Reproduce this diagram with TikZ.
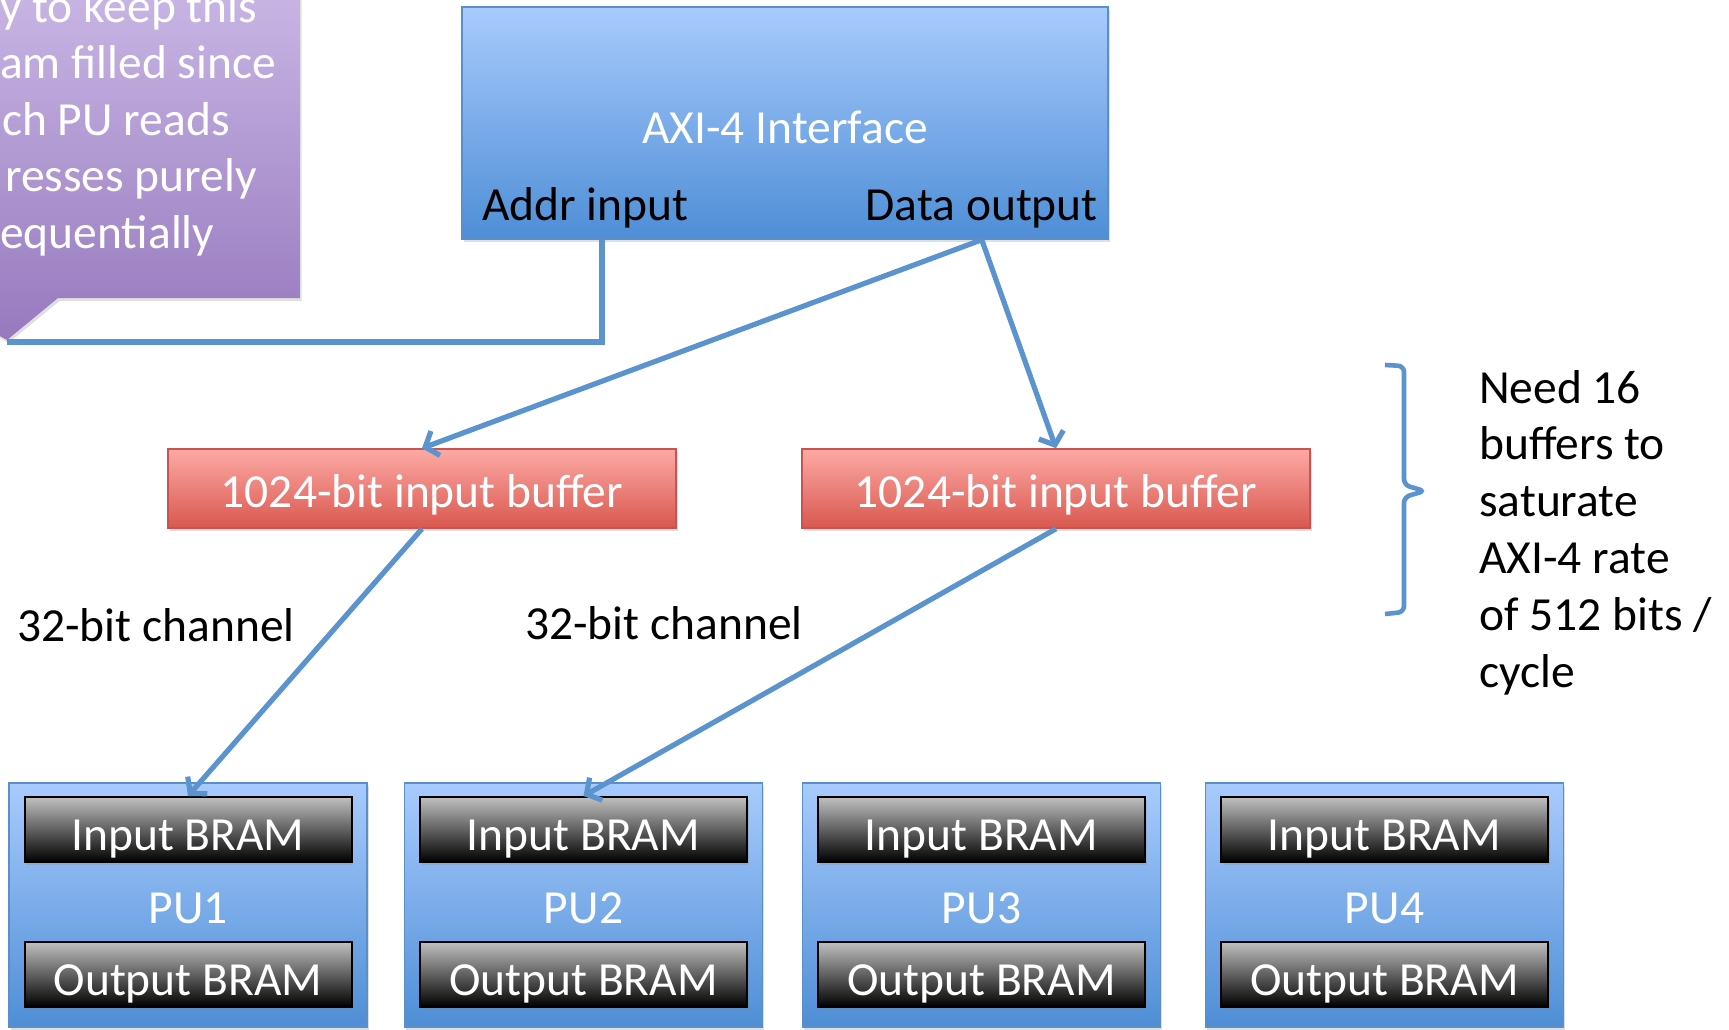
\documentclass[tikz,border=0pt]{standalone}
\usepackage{fontspec}
\setmainfont{Carlito}
\usetikzlibrary{arrows.meta,shadows,calc}
\definecolor{wireblue}{HTML}{5B93CE}
\definecolor{axitop}{HTML}{A8CBFD}
\definecolor{axibot}{HTML}{4E8ED6}
\definecolor{axiline}{HTML}{5A8FCB}
\definecolor{buftop}{HTML}{FDA9A5}
\definecolor{bufbot}{HTML}{D9584F}
\definecolor{bufline}{HTML}{C75450}
\definecolor{bramtop}{HTML}{C0C0C0}
\definecolor{calltop}{HTML}{CBB9E6}
\definecolor{callbot}{HTML}{9779BE}

\begin{document}
\begin{tikzpicture}[x=1pt,y=-1pt]
\tikzstyle{every node} = [font=\fontsize{47.5}{57}\selectfont, inner sep=0pt]
\tikzstyle{wire} = [draw=wireblue, line width=5.2pt]
\tikzstyle{arr} = [wire, -{Straight Barb[length=11pt,width=26pt]}]
\tikzstyle{shadowed} = [drop shadow={shadow xshift=1.5pt, shadow yshift=-3pt, opacity=0.25}]
\tikzstyle{axibox} = [rectangle, draw=axiline, line width=1.5pt, top color=axitop, bottom color=axibot, shadowed, minimum width=646pt, minimum height=232pt]
\tikzstyle{pubox} = [axibox, minimum width=358pt, minimum height=244pt]
\tikzstyle{bufbox} = [rectangle, draw=bufline, line width=1.5pt, top color=buftop, bottom color=bufbot, shadowed, text=white, minimum width=508pt, minimum height=79pt, text height=37pt, text depth=0pt]
\tikzstyle{bram} = [rectangle, draw=black, line width=2pt, top color=bramtop, bottom color=black, shadowed, text=white, minimum width=327pt, minimum height=65pt, text height=41pt, text depth=0pt]
\tikzstyle{callout} = [top color=calltop, bottom color=callbot, shadowed]

\useasboundingbox (0,0) rectangle (1729,1029);
\clip (0,0) rectangle (1729,1029);

\path[callout] (-20,-30) -- (300,-30) -- (300,298) -- (58,298) -- (7,340) -- (-20,325) -- cycle;
\foreach \x/\t [count=\k] in {0/y to keep this, 0/am filled since, 2/ch PU reads, 5/resses purely, 0/equentially}
  \node[text=white, anchor=base west] (note\k) at (\x, 22+56.5*\k-56.5) {\t};
\coordinate (tip) at (7,342);

\node[axibox] (axi) at (785,123) {};
\node[text=white, anchor=base] (axilbl) at (785,143) {AXI-4 Interface};
\node[anchor=base west] (addr) at (482,220) {Addr input};
\node[anchor=base east] (dout) at (1098,220) {Data output};

\node[bufbox] (buf1) at (422,488.5) {1024-bit input buffer};
\node[bufbox] (buf2) at (1056,488.5) {1024-bit input buffer};

\node[anchor=base west] (ch1) at (17,641) {32-bit channel};
\node[anchor=base west] (ch2) at (525,639) {32-bit channel};

\foreach \i/\x in {1/188,2/583.5,3/981.5,4/1384.5} {
  \node[pubox] (pu\i) at (\x,905) {};
  \node[bram] (ib\i) at (\x,829.5) {Input BRAM};
  \node[text=white, anchor=base] (pl\i) at (\x,923) {PU\i};
  \node[bram] (ob\i) at (\x,974.5) {Output BRAM};
}

\coordinate (addrx) at (602,0);
\coordinate (dpin) at (axi.south -| dout);
\draw[wire] (axi.south -| addrx) |- (tip);
\draw[arr] (dpin) -- (buf1.north);
\draw[arr] (dpin) -- (buf2.north);
\draw[arr] (buf1.south) -- (ib1.north);
\draw[arr] (buf2.south) -- (ib2.north);

\draw[wire, line width=4.6pt, rounded corners=6pt] (1385,365) -- (1404,366) -- (1404,485) -- (1425,491) -- (1404,497) -- (1404,612) -- (1385,614);
\foreach \t [count=\k] in {Need 16, buffers to, saturate, AXI-4 rate, of 512 bits /, cycle}
  \node[anchor=base west] (need\k) at (1479, 403+56.8*\k-56.8) {\t};
\end{tikzpicture}
\end{document}
